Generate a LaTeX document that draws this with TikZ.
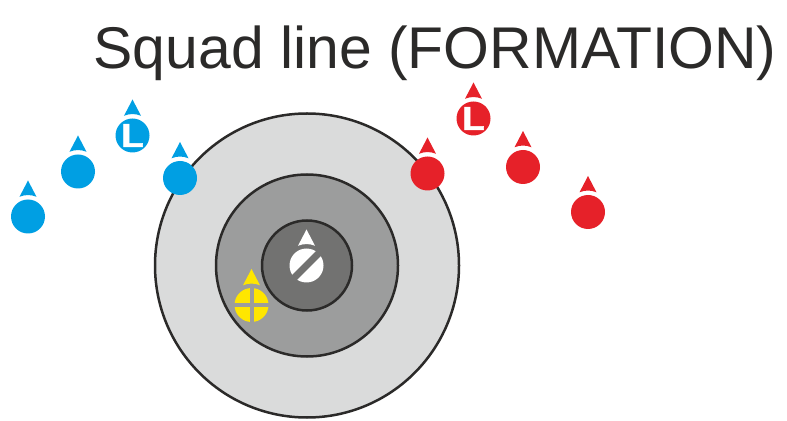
\documentclass[tikz,border=0pt]{standalone}
\usepackage{fontspec}
\setmainfont{Liberation Sans}
\newfontfamily\leadfont[FakeBold=1.5,FakeStretch=1.1]{Liberation Sans Bold}
\definecolor{ringlight}{HTML}{DADBDB}
\definecolor{ringmid}{HTML}{9C9D9D}
\definecolor{ringdark}{HTML}{727271}
\definecolor{inkdark}{HTML}{2B2A29}
\definecolor{squadblue}{HTML}{009FE3}
\definecolor{squadred}{HTML}{E62129}
\definecolor{squadyellow}{HTML}{FFE600}
\tikzset{
  ring/.style={circle,draw=inkdark,line width=.05cm,inner sep=0pt},
  disc/.style={circle,fill=#1,minimum size=.68cm,inner sep=0pt,text=white,font=\fontsize{19}{19}\leadfont},
}
\newcommand{\pointer}[2]{\fill[#1] (#2) ++(-.17,.394) -- ++(.17,.326) -- ++(.17,-.326) arc[start angle=66.7,end angle=113.3,radius=.43] -- cycle;}
\begin{document}
\begin{tikzpicture}
  \useasboundingbox (0,0) rectangle (15.74,8.4);
  \node[anchor=base,text=inkdark,font=\fontsize{33.5}{33.5}\selectfont] (title) at (8.7,7.03) {Squad line (FORMATION)};
  % rings
  \node[ring,fill=ringlight,minimum size=6.08cm] (outer) at (6.14,3.09) {};
  \node[ring,fill=ringmid,minimum size=3.64cm] (middle) at (6.14,3.09) {};
  \node[ring,fill=ringdark,minimum size=1.8cm] (inner) at (6.14,3.09) {};
  % blue side
  \node[disc=squadblue] (b1) at (.56,4.07) {};
  \node[disc=squadblue] (b2) at (1.56,4.97) {};
  \node[disc=squadblue] (b3) at (2.65,5.69) {L};
  \node[disc=squadblue] (b4) at (3.6,4.84) {};
  \pointer{squadblue}{b1}
  \pointer{squadblue}{b2}
  \pointer{squadblue}{b3}
  \pointer{squadblue}{b4}
  % red side
  \node[disc=squadred] (r1) at (8.55,4.93) {};
  \node[disc=squadred] (r2) at (9.47,6.03) {L};
  \node[disc=squadred] (r3) at (10.46,5.06) {};
  \node[disc=squadred] (r4) at (11.76,4.16) {};
  \pointer{squadred}{r1}
  \pointer{squadred}{r2}
  \pointer{squadred}{r3}
  \pointer{squadred}{r4}
  % centre and medic
  \node[disc=white] (w) at (6.13,3.09) {};
  \pointer{white}{w}
  \draw[ringdark,line width=.14cm,shorten <=-3pt,shorten >=-3pt] (w.225) -- (w.45);
  \node[disc=squadyellow] (y) at (5.03,2.3) {};
  \pointer{squadyellow}{y}
  \draw[ringmid,line width=.08cm,shorten <=-2pt,shorten >=-2pt] (y.north) -- (y.south);
  \draw[ringmid,line width=.09cm,shorten <=-2pt,shorten >=-2pt] (y.west) -- (y.east);
\end{tikzpicture}
\end{document}
